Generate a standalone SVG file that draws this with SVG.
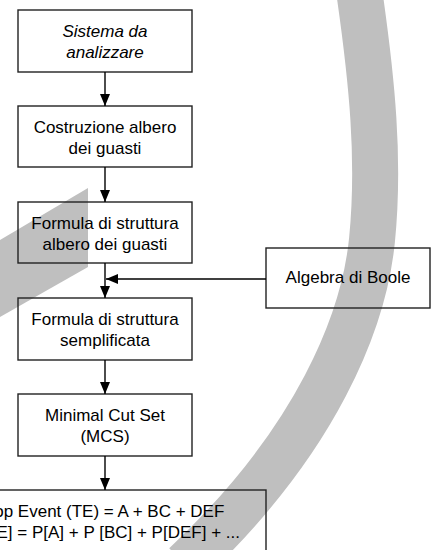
<svg xmlns="http://www.w3.org/2000/svg" width="435" height="550" viewBox="0 0 435 550">
<style>
.wm{fill:#bfbfbf;stroke:none}
.box{fill:none;stroke:#222;stroke-width:1.4}
.t{font-family:"Liberation Sans",Arial,sans-serif;font-size:17px;fill:#000;text-anchor:middle}
.i{font-style:italic}
.c{stroke:#000;stroke-width:1.4;fill:none}
</style>
<defs>
<marker id="ah" viewBox="0 0 12 10" refX="12" refY="5" markerWidth="12" markerHeight="10" markerUnits="userSpaceOnUse" orient="auto">
<path d="M0,0 L12,5 L0,10 Z" fill="#000"/>
</marker>
</defs>
<g id="watermark">
<path d="M359,-10 C372,80 380,160 372,240 C364,320 318,440 185,565" fill="none" stroke="#bfbfbf" stroke-width="46"/>
<polygon class="wm" points="0,240 88,188 88,267 0,317"/>
</g>
<g id="n1">
<rect class="box" x="18" y="10" width="174" height="62"/>
<text class="t i" x="105" y="37">Sistema da</text>
<text class="t i" x="105" y="58">analizzare</text>
</g>
<g id="n2">
<rect class="box" x="18" y="106" width="174" height="61"/>
<text class="t" x="105" y="133">Costruzione albero</text>
<text class="t" x="105" y="154">dei guasti</text>
</g>
<g id="n3">
<rect class="box" x="18" y="202" width="174" height="61"/>
<text class="t" x="105" y="229">Formula di struttura</text>
<text class="t" x="105" y="250">albero dei guasti</text>
</g>
<g id="n4">
<rect class="box" x="18" y="298" width="174" height="62"/>
<text class="t" x="105" y="325">Formula di struttura</text>
<text class="t" x="105" y="346">semplificata</text>
</g>
<g id="n5">
<rect class="box" x="18" y="394" width="174" height="62"/>
<text class="t" x="105" y="421">Minimal Cut Set</text>
<text class="t" x="105" y="442">(MCS)</text>
</g>
<g id="n6">
<rect class="box" x="-56" y="490" width="322" height="80"/>
<text class="t" x="105" y="517">Top Event (TE) = A + BC + DEF</text>
<text class="t" x="105" y="538">P[TE] = P[A] + P [BC] + P[DEF] + ...</text>
</g>
<g id="n7">
<rect class="box" x="266" y="248" width="164" height="60"/>
<text class="t" x="348" y="283">Algebra di Boole</text>
</g>
<g id="connectors">
<line class="c" x1="105" y1="72" x2="105" y2="106" marker-end="url(#ah)"/>
<line class="c" x1="105" y1="167" x2="105" y2="202" marker-end="url(#ah)"/>
<line class="c" x1="105" y1="263" x2="105" y2="298" marker-end="url(#ah)"/>
<line class="c" x1="266" y1="279" x2="106" y2="279" marker-end="url(#ah)"/>
<line class="c" x1="105" y1="360" x2="105" y2="394" marker-end="url(#ah)"/>
<line class="c" x1="105" y1="456" x2="105" y2="490" marker-end="url(#ah)"/>
</g>
</svg>
